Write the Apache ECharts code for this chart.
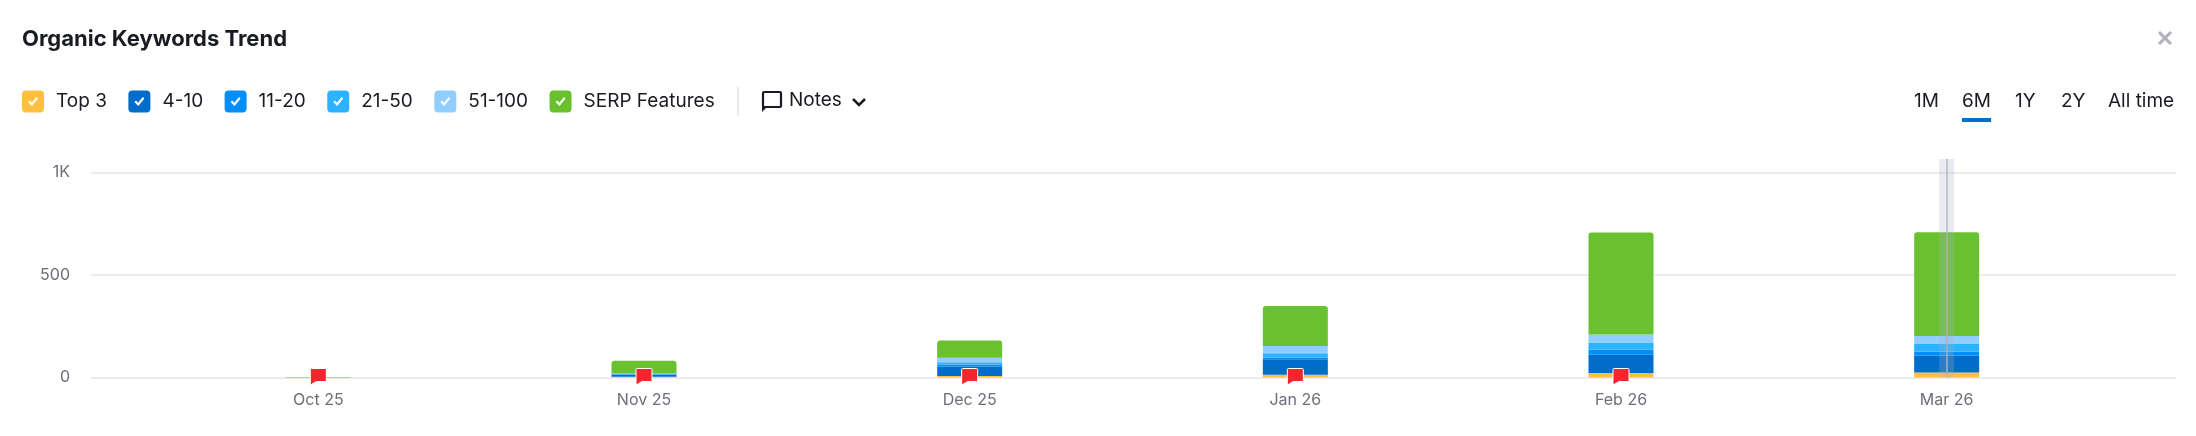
<!DOCTYPE html>
<html><head><meta charset="utf-8">
<style>html,body{margin:0;padding:0;background:#fff}#c{width:2196px;height:436px}</style>
<script src="https://cdn.jsdelivr.net/npm/echarts@6/dist/echarts.min.js"></script>
</head><body><div id="c"></div>
<script>
const categories = ['Oct 25','Nov 25','Dec 25','Jan 26','Feb 26','Mar 26'];
const top3       = [0, 4, 7, 14, 22, 25];
const pos4to10   = [0, 9, 47, 75, 89, 81];
const pos11to20  = [0, 3, 8, 8, 24, 21];
const pos21to50  = [0, 3, 12, 21, 36, 39];
const pos51to100 = [0, 2, 22, 36, 39, 37];
const serp       = [3, 61, 85, 195, 498, 506];
const flagValues = [0, 0, 0, 0, 0, null];
const hoverBand  = [null, null, null, null, null, 1066];
const yMax = 1066;
const yTicks = [0, 500, 1000];
const seriesNames = ['Top 3','4-10','11-20','21-50','51-100','SERP Features'];
const seriesColors = ['#FFBF3F','#006DCA','#008FF8','#2BB3FF','#8FCEFF','#6AC12F'];
const seriesValues = [top3,pos4to10,pos11to20,pos21to50,pos51to100,serp];
const rangeLabels = ['1M','6M','1Y','2Y','All time'];
const rangeX = [1914,1962,2015,2061,2108];

const FONT = 'Inter';
const INK = '#191B23';
const checkIcon = 'path://M4 0H18A4 4 0 0 1 22 4V18A4 4 0 0 1 18 22H4A4 4 0 0 1 0 18V4A4 4 0 0 1 4 0ZM6 11.5L9.9 15.4L16 8L14.4 6.6L9.8 12.2L7.6 10Z';
const flagIcon = 'path://M1 0H15A1 1 0 0 1 16 1V12A1 1 0 0 1 15 13H6L1 16A1 1 0 0 1 0 15V1A1 1 0 0 1 1 0Z';

const chart = echarts.init(document.getElementById('c'), null, {renderer:'canvas'});
const gridBase = {top:159, bottom:58.5};
const stacks = seriesNames.map((name,i)=>({
  name, type:'bar', stack:'kw', xAxisIndex:1, yAxisIndex:1, barWidth:65, z:3,
  data: seriesValues[i],
  itemStyle:{color:seriesColors[i], borderRadius: i===5?[3,3,0,0]:0},
  emphasis:{disabled:true}
}));
const txt = (text,x,y,opt={}) => ({type:'text', x, y, silent:true, style:Object.assign({text, fill:INK, font:`400 19px ${FONT}`, textVerticalAlign:'middle'},opt)});

chart.setOption({
  animation:false,
  backgroundColor:'#fff',
  textStyle:{fontFamily:FONT},
  title:{text:'Organic Keywords Trend', left:22, top:26, padding:0,
    textStyle:{fontFamily:FONT, fontSize:22, fontWeight:700, color:INK, lineHeight:26}},
  legend:{left:22, top:90.5, padding:0, itemWidth:22, itemHeight:22, itemGap:21.5, selectedMode:false,
    icon:checkIcon, data:seriesNames, itemStyle:{borderWidth:0},
    textStyle:{fontFamily:FONT, fontSize:19, color:INK, padding:[0,0,0,7]}},
  grid:[
    Object.assign({left:91, right:20},gridBase),
    Object.assign({left:155.5, width:1954},gridBase),
    Object.assign({left:155.5, width:1954},gridBase)
  ],
  xAxis:[
    {gridIndex:0, type:'category', data:[''], show:false},
    {gridIndex:1, type:'category', data:categories,
      axisLine:{show:false}, axisTick:{show:false},
      axisLabel:{color:'#6C6E79', fontSize:16, fontFamily:FONT, margin:15}},
    {gridIndex:2, type:'category', data:categories, show:false}
  ],
  yAxis:[
    {gridIndex:0, type:'value', min:0, max:yMax, interval:500,
      axisLine:{show:false}, axisTick:{show:false},
      axisLabel:{color:'#6C6E79', fontSize:16, fontFamily:FONT, margin:21,
        customValues:yTicks, formatter:v=>v>=1000?(v/1000)+'K':String(v)},
      splitLine:{show:true, showMaxLine:false, lineStyle:{color:'#E4E5EB', width:1.5}}},
    {gridIndex:1, type:'value', min:0, max:yMax, show:false, splitLine:{show:false}},
    {gridIndex:2, type:'value', min:0, max:yMax, show:false, splitLine:{show:false}}
  ],
  series:[
    ...stacks,
    {name:'Hover', type:'bar', xAxisIndex:2, yAxisIndex:2, barWidth:15, z:5, data:hoverBand,
      itemStyle:{color:'rgba(170,175,200,0.25)'}, emphasis:{disabled:true},
      markLine:{silent:true, symbol:'none', label:{show:false}, z:6, animation:false,
        lineStyle:{color:'rgba(175,178,186,0.9)', width:1.5, type:'solid'},
        data:[{xAxis:categories[5]}]}},
    {name:'Notes', type:'scatter', xAxisIndex:1, yAxisIndex:1, z:8, data:flagValues,
      symbol:flagIcon, symbolSize:[16,16], symbolOffset:[0,-1],
      itemStyle:{color:'#F0282D', borderColor:'#fff', borderWidth:1, opacity:1}, emphasis:{disabled:true}}
  ],
  graphic:[
    {type:'rect', silent:true, shape:{x:737.5,y:87,width:1,height:29}, style:{fill:'#D5D6DD'}},
    {type:'rect', silent:true, shape:{x:763,y:92,width:18,height:15,r:1}, style:{fill:'none',stroke:INK,lineWidth:2.2}},
    {type:'polygon', silent:true, shape:{points:[[762,106],[768,106],[762,112]]}, style:{fill:INK}},
    txt('Notes',789,100),
    {type:'polyline', silent:true, shape:{points:[[853,99],[859,105],[865,99]]}, style:{stroke:INK,lineWidth:2.5,fill:'none'}},
    ...rangeLabels.map((t,i)=>txt(t,rangeX[i],101)),
    {type:'rect', silent:true, shape:{x:1962,y:118,width:29,height:4}, style:{fill:'#006DCA'}},
    {type:'line', silent:true, shape:{x1:2159,y1:32,x2:2171,y2:44}, style:{stroke:'#B0B2BB',lineWidth:3}},
    {type:'line', silent:true, shape:{x1:2171,y1:32,x2:2159,y2:44}, style:{stroke:'#B0B2BB',lineWidth:3}}
  ]
});
</script></body></html>
